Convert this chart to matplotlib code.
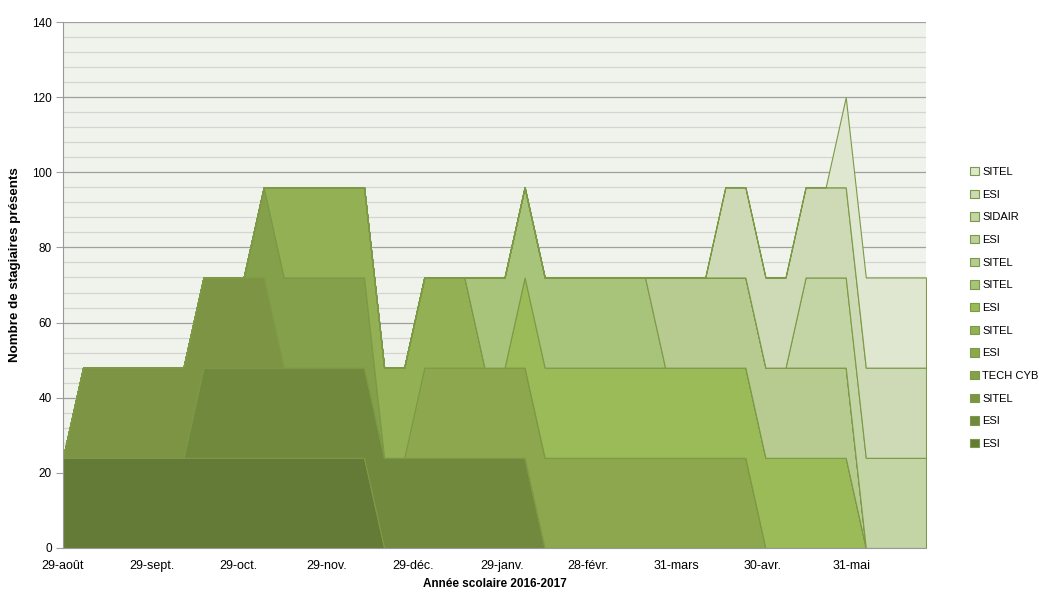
import pandas as pd
import matplotlib
matplotlib.use('Agg')
import matplotlib.pyplot as plt
from matplotlib.patches import Patch
from matplotlib.ticker import MultipleLocator

# une valeur par semaine, du 29 aout 2016 au 26 juin 2017
weeks = pd.date_range('2016-08-29', periods=44, freq='7D')

# groupes de 24 stagiaires, du bas vers le haut de la pile
esi_a = [24, 24, 24, 24, 24, 24, 24, 24, 24, 24, 24,
         24, 24, 24, 24, 24, 0, 0, 0, 0, 0, 0,
         0, 0, 0, 0, 0, 0, 0, 0, 0, 0, 0,
         0, 0, 0, 0, 0, 0, 0, 0, 0, 0, 0]
esi_b = [0, 0, 0, 0, 0, 0, 0, 24, 24, 24, 24,
         24, 24, 24, 24, 24, 24, 24, 24, 24, 24, 24,
         24, 24, 0, 0, 0, 0, 0, 0, 0, 0, 0,
         0, 0, 0, 0, 0, 0, 0, 0, 0, 0, 0]
sitel_a = [0, 24, 24, 24, 24, 24, 24, 24, 24, 24, 24,
           0, 0, 0, 0, 0, 0, 0, 0, 0, 0, 0,
           0, 0, 0, 0, 0, 0, 0, 0, 0, 0, 0,
           0, 0, 0, 0, 0, 0, 0, 0, 0, 0, 0]
tech_cyb = [0, 0, 0, 0, 0, 0, 0, 0, 0, 0, 24,
            24, 24, 24, 24, 24, 0, 0, 0, 0, 0, 0,
            0, 0, 0, 0, 0, 0, 0, 0, 0, 0, 0,
            0, 0, 0, 0, 0, 0, 0, 0, 0, 0, 0]
esi_c = [0, 0, 0, 0, 0, 0, 0, 0, 0, 0, 0,
         0, 0, 0, 0, 0, 0, 0, 24, 24, 24, 24,
         24, 24, 24, 24, 24, 24, 24, 24, 24, 24, 24,
         24, 24, 0, 0, 0, 0, 0, 0, 0, 0, 0]
sitel_b = [0, 0, 0, 0, 0, 0, 0, 0, 0, 0, 0,
           24, 24, 24, 24, 24, 24, 24, 24, 24, 24, 0,
           0, 0, 0, 0, 0, 0, 0, 0, 0, 0, 0,
           0, 0, 0, 0, 0, 0, 0, 0, 0, 0, 0]
esi_d = [0, 0, 0, 0, 0, 0, 0, 0, 0, 0, 0,
         0, 0, 0, 0, 0, 0, 0, 0, 0, 0, 0,
         0, 24, 24, 24, 24, 24, 24, 24, 24, 24, 24,
         24, 24, 24, 24, 24, 24, 24, 0, 0, 0, 0]
sitel_c = [0, 0, 0, 0, 0, 0, 0, 0, 0, 0, 0,
           0, 0, 0, 0, 0, 0, 0, 0, 0, 0, 24,
           24, 24, 24, 24, 24, 24, 24, 24, 0, 0, 0,
           0, 0, 0, 0, 0, 0, 0, 0, 0, 0, 0]
sitel_d = [0, 0, 0, 0, 0, 0, 0, 0, 0, 0, 0,
           0, 0, 0, 0, 0, 0, 0, 0, 0, 0, 0,
           0, 0, 0, 0, 0, 0, 0, 0, 24, 24, 24,
           24, 24, 24, 24, 24, 24, 24, 0, 0, 0, 0]
esi_e = [0, 0, 0, 0, 0, 0, 0, 0, 0, 0, 0,
         0, 0, 0, 0, 0, 0, 0, 0, 0, 0, 0,
         0, 0, 0, 0, 0, 0, 0, 0, 0, 0, 0,
         0, 0, 0, 0, 0, 0, 0, 0, 0, 0, 0]
sidair = [0, 0, 0, 0, 0, 0, 0, 0, 0, 0, 0,
          0, 0, 0, 0, 0, 0, 0, 0, 0, 0, 0,
          0, 0, 0, 0, 0, 0, 0, 0, 0, 0, 0,
          0, 0, 0, 0, 24, 24, 24, 24, 24, 24, 24]
esi_f = [0, 0, 0, 0, 0, 0, 0, 0, 0, 0, 0,
         0, 0, 0, 0, 0, 0, 0, 0, 0, 0, 0,
         0, 0, 0, 0, 0, 0, 0, 0, 0, 0, 0,
         24, 24, 24, 24, 24, 24, 24, 24, 24, 24, 24]
sitel_e = [0, 0, 0, 0, 0, 0, 0, 0, 0, 0, 0,
           0, 0, 0, 0, 0, 0, 0, 0, 0, 0, 0,
           0, 0, 0, 0, 0, 0, 0, 0, 0, 0, 0,
           0, 0, 0, 0, 0, 0, 24, 24, 24, 24, 24]

series = [esi_a, esi_b, sitel_a, tech_cyb, esi_c, sitel_b, esi_d,
          sitel_c, sitel_d, esi_e, sidair, esi_f, sitel_e]
labels = ['ESI', 'ESI', 'SITEL', 'TECH CYB', 'ESI', 'SITEL', 'ESI',
          'SITEL', 'SITEL', 'ESI', 'SIDAIR', 'ESI', 'SITEL']
colors = ['#647a37', '#70893d', '#7c9444', '#84a04a', '#8ca74d', '#94b055',
          '#9bbb59', '#a8c47a', '#b7cb91', '#bdcf9c', '#c3d4a5', '#cddab5',
          '#dfe7d1']

tick_dates = ['2016-08-29', '2016-09-29', '2016-10-29', '2016-11-29',
              '2016-12-29', '2017-01-29', '2017-02-28', '2017-03-31',
              '2017-04-30', '2017-05-31']
tick_labels = ['29-août', '29-sept.', '29-oct.', '29-nov.', '29-déc.',
               '29-janv.', '28-févr.', '31-mars', '30-avr.', '31-mai']

plt.rcParams['font.family'] = ['Liberation Sans', 'DejaVu Sans']

fig = plt.figure(figsize=(10.4, 5.9), dpi=100)
ax = fig.add_axes([0.0606, 0.0712, 0.8298, 0.8915])
ax.set_facecolor('#f0f3eb')

edge = '#7c9a46'
ax.stackplot(weeks, *series, colors=colors, edgecolor=edge, linewidth=0.8)

ax.set_xlim(weeks[0], weeks[-1])
ax.set_ylim(0, 140)
ax.set_yticks(range(0, 141, 20))
ax.yaxis.set_minor_locator(MultipleLocator(4))
ax.set_axisbelow(True)
ax.grid(which='minor', axis='y', color='#d4d4d4', linewidth=0.9)
ax.grid(which='major', axis='y', color='#a0a0a0', linewidth=0.9)
ax.tick_params(axis='y', which='major', length=5, color='#a0a0a0',
               labelsize=8.5, pad=3)
ax.tick_params(axis='y', which='minor', length=0)

ax.set_xticks(pd.to_datetime(tick_dates))
ax.set_xticklabels(tick_labels)
ax.tick_params(axis='x', length=0, labelsize=9, pad=9)

for side in ['top', 'right']:
    ax.spines[side].set_visible(False)
for side in ['left', 'bottom']:
    ax.spines[side].set_color('#999999')

ax.set_ylabel('Nombre de stagiaires présents', fontsize=9.6,
              fontweight='bold')
ax.yaxis.set_label_coords(-0.049, 0.538)
ax.set_xlabel('Année scolaire 2016-2017', fontsize=8.5, fontweight='bold',
              labelpad=4)

handles = [Patch(facecolor=c, edgecolor=edge, linewidth=0.8) for c in colors]
fig.legend(handles[::-1], labels[::-1], loc='center left',
           bbox_to_anchor=(0.927, 0.478), frameon=False, fontsize=8,
           labelspacing=1.13, handlelength=0.8, handleheight=0.8,
           handletextpad=0.35, borderaxespad=0.1)

fig.savefig('out.png', dpi=100)
